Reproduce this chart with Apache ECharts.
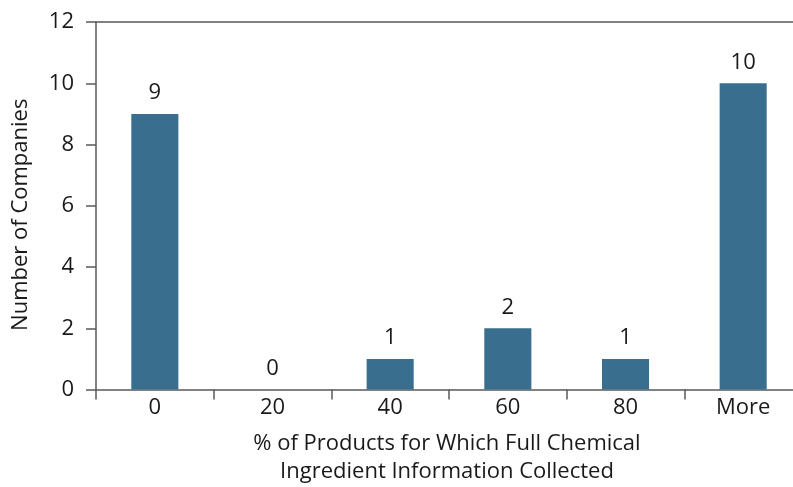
<!DOCTYPE html>
<html><head><meta charset="utf-8">
<script src="https://cdn.jsdelivr.net/npm/echarts@6/dist/echarts.min.js"></script>
<style>html,body{margin:0;padding:0;background:#fff}#c{width:793px;height:487px}</style>
</head><body><div id="c"></div>
<script>
var categories = ['0', '20', '40', '60', '80', 'More'];
var companies = [9, 0, 1, 2, 1, 10];
var yTicks = [0, 2, 4, 6, 8, 10, 12];

var axisColor = '#595959';
var font = 'Open Sans';
var chart = echarts.init(document.getElementById('c'));
chart.setOption({
  animation: false,
  textStyle: {fontFamily: font},
  grid: {left: 96, width: 706, top: 22, height: 367.5, outerBoundsMode: 'none', containLabel: false},
  xAxis: [{
    type: 'category',
    data: categories,
    axisLine: {lineStyle: {color: axisColor, width: 1.5}},
    axisTick: {show: true, length: 10, lineStyle: {color: axisColor, width: 1.5}},
    axisLabel: {color: '#1a1a1a', fontSize: 22, margin: 7, fontFamily: font},
    name: '% of Products for Which Full Chemical\nIngredient Information Collected',
    nameLocation: 'middle',
    nameGap: 40,
    nameTextStyle: {color: '#1a1a1a', fontSize: 22, lineHeight: 28, fontFamily: font, padding: [0, 0, 0, -4]}
  }, {
    type: 'category',
    position: 'top',
    data: categories,
    axisLine: {show: true, lineStyle: {color: axisColor, width: 1.5}},
    axisTick: {show: false},
    axisLabel: {show: false}
  }],
  yAxis: {
    type: 'value',
    min: 0, max: 12, interval: 2,
    axisLine: {show: true, lineStyle: {color: axisColor, width: 1.5}},
    axisTick: {show: true, length: 10, lineStyle: {color: axisColor, width: 1.5}},
    splitLine: {show: false},
    axisLabel: {color: '#1a1a1a', fontSize: 22, margin: 22, fontFamily: font,
      formatter: function (v) { return yTicks.indexOf(v) >= 0 ? String(v) : ''; }},
    name: 'Number of Companies',
    nameLocation: 'middle',
    nameGap: 64,
    nameTextStyle: {color: '#1a1a1a', fontSize: 22, fontFamily: font, padding: [0, 18, 0, 0]}
  },
  series: [{
    type: 'bar',
    data: companies,
    barWidth: '40%',
    itemStyle: {color: '#396e8f'},
    label: {show: true, position: 'top', distance: 10, color: '#1a1a1a', fontSize: 22, fontFamily: font}
  }]
});
</script></body></html>
